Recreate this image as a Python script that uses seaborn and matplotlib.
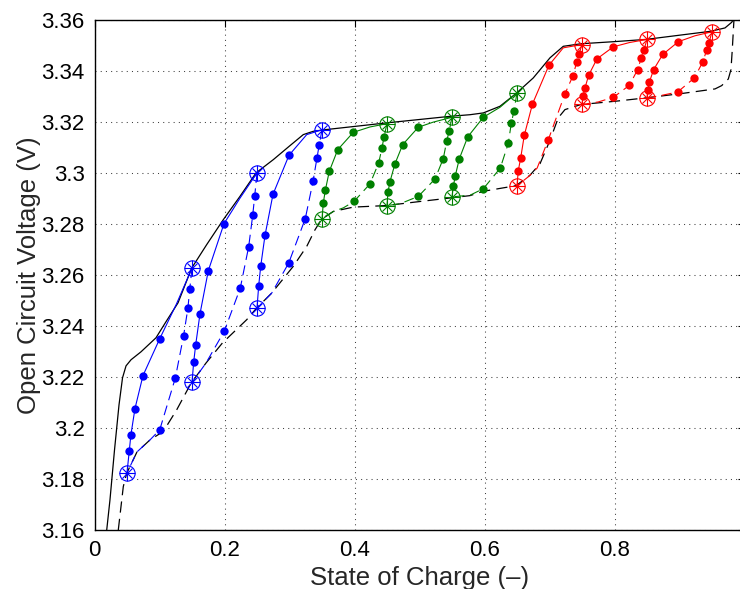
import numpy as np
import pandas as pd
import matplotlib
matplotlib.use("Agg")
import matplotlib.pyplot as plt
import seaborn as sns

sns.set_style("white")
plt.rcParams["font.family"] = ["Liberation Sans", "DejaVu Sans"]

# ---------------- data ----------------
# major charge boundary (upper, solid black)
UPPER_SOC = [0.0188, 0.0238, 0.0308, 0.0377, 0.0431, 0.0485, 0.0562, 0.0715, 0.0946,
             0.110, 0.1285, 0.1495, 0.1726, 0.1982, 0.2238, 0.2485, 0.2751, 0.3008,
             0.3212, 0.3366, 0.3572, 0.4495, 0.5485, 0.5777, 0.5982, 0.6238, 0.6485,
             0.675, 0.7008, 0.7212, 0.7485, 0.7982, 0.8485, 0.9485, 0.9700, 0.9803, 0.9838]
UPPER_V = [3.1600, 3.1718, 3.1914, 3.2090, 3.2196, 3.2243, 3.2267, 3.2298, 3.2353,
           3.2416, 3.2490, 3.2626, 3.2718, 3.2816, 3.2907, 3.2999, 3.3051, 3.3106,
           3.3149, 3.3162, 3.3169, 3.3195, 3.3221, 3.3227, 3.3234, 3.3260, 3.3310,
           3.3371, 3.3450, 3.3495, 3.3505, 3.3513, 3.3522, 3.3554, 3.3567, 3.3589, 3.3604]
# major discharge boundary (lower, dashed black)
LOWER_SOC = [0.0366, 0.0443, 0.0495, 0.0654, 0.0854, 0.1058, 0.1265, 0.1485, 0.1715,
             0.1969, 0.2342, 0.2492, 0.2726, 0.3058, 0.3265, 0.3392, 0.3495, 0.3674,
             0.3982, 0.4485, 0.5008, 0.548, 0.5777, 0.5982, 0.6485, 0.670, 0.6854,
             0.7008, 0.7135, 0.7238, 0.7485, 0.8023, 0.8485, 0.9034, 0.9546, 0.9649,
             0.9751, 0.9792, 0.9812, 0.9838]
LOWER_V = [3.1600, 3.1770, 3.1822, 3.1906, 3.1953, 3.1986, 3.2071, 3.2175, 3.2254,
           3.2333, 3.2424, 3.2469, 3.2528, 3.2633, 3.2711, 3.2776, 3.2818, 3.2848,
           3.2865, 3.2871, 3.2887, 3.2901, 3.2910, 3.2927, 3.2949, 3.2990, 3.3035,
           3.3127, 3.3215, 3.3247, 3.3267, 3.3280, 3.3293, 3.3310, 3.3328, 3.3341,
           3.3367, 3.3404, 3.3482, 3.3600]

# minor loop turning points
LOW_SOC = [0.05, 0.15, 0.25, 0.35, 0.45, 0.55, 0.65, 0.75, 0.85]
LOW_V = [3.1824, 3.2178, 3.2469, 3.2818, 3.2871, 3.2905, 3.2949, 3.3267, 3.3293]
HIGH_SOC = [0.15, 0.25, 0.35, 0.45, 0.55, 0.65, 0.75, 0.85, 0.95]
HIGH_V = [3.2626, 3.2999, 3.3168, 3.3192, 3.3217, 3.3313, 3.3502, 3.3522, 3.3552]

# charge (solid) relaxation points
CHG_DOT_SOC = [[0.0535, 0.0560, 0.0623, 0.0746, 0.1003],
               [0.1526, 0.1557, 0.1623, 0.1751, 0.1992],
               [0.2526, 0.2557, 0.2623, 0.2746, 0.2992],
               [0.3520, 0.3551, 0.3612, 0.3742, 0.3982],
               [0.4515, 0.4546, 0.4623, 0.4742, 0.4982],
               [0.5520, 0.5551, 0.5612, 0.5742, 0.5982],
               [0.6520, 0.6557, 0.6612, 0.6738, 0.6992],
               [0.7515, 0.7546, 0.7603, 0.7731, 0.7982],
               [0.8511, 0.8535, 0.8603, 0.8742, 0.8982]]
CHG_DOT_V = [[3.1910, 3.1973, 3.2076, 3.2205, 3.2349],
             [3.2258, 3.2326, 3.2447, 3.2616, 3.2800],
             [3.2557, 3.2633, 3.2754, 3.2915, 3.3068],
             [3.2881, 3.2931, 3.3005, 3.3090, 3.3158],
             [3.2924, 3.2965, 3.3035, 3.3110, 3.3178],
             [3.2946, 3.2988, 3.3054, 3.3140, 3.3217],
             [3.3008, 3.3058, 3.3146, 3.3269, 3.3421],
             [3.3299, 3.3332, 3.3382, 3.3446, 3.3493],
             [3.3323, 3.3354, 3.3404, 3.3463, 3.3513]]
# discharge (dashed) relaxation points
DIS_DOT_SOC = [[0.1465, 0.1437, 0.1370, 0.1243, 0.1003],
               [0.2465, 0.2434, 0.2372, 0.2243, 0.1997],
               [0.3458, 0.3423, 0.3362, 0.3243, 0.2988],
               [0.4454, 0.4423, 0.4372, 0.4238, 0.3992],
               [0.5458, 0.5418, 0.5366, 0.5238, 0.4982],
               [0.6454, 0.6412, 0.6366, 0.6243, 0.5982],
               [0.7454, 0.7418, 0.7362, 0.7238, 0.6982],
               [0.8454, 0.8412, 0.8357, 0.8228, 0.7982],
               [0.9454, 0.9418, 0.9357, 0.9228, 0.8972]]
DIS_DOT_V = [[3.2543, 3.2469, 3.2360, 3.2195, 3.1992],
             [3.2909, 3.2833, 3.2710, 3.2548, 3.2379],
             [3.3110, 3.3058, 3.2966, 3.2820, 3.2646],
             [3.3140, 3.3097, 3.3038, 3.2956, 3.2887],
             [3.3165, 3.3123, 3.3055, 3.2975, 3.2907],
             [3.3243, 3.3193, 3.3115, 3.3018, 3.2937],
             [3.3465, 3.3433, 3.3380, 3.3309, 3.3129],
             [3.3482, 3.3450, 3.3404, 3.3342, 3.3295],
             [3.3509, 3.3480, 3.3433, 3.3371, 3.3316]]
# extra curve points between last point and turning point
CHG_TAIL_SOC = [[0.126], [0.2238], [0.3265], [0.4238], [0.5212], [0.6238], [0.7212], [0.8235], [0.9235]]
CHG_TAIL_V = [[3.2485], [3.2900], [3.3149], [3.3179], [3.3198], [3.3256], [3.3489], [3.3510], [3.3536]]
DIS_TAIL_SOC = [[0.0854, 0.0654], [0.1715], [0.2726], [0.3828, 0.3674], [0.47], [0.578],
                [0.681, 0.668], [0.775], [0.873]]
DIS_TAIL_V = [[3.1953, 3.1906], [3.2254], [3.2528], [3.2862, 3.2848], [3.2878], [3.2912],
              [3.3018, 3.2985], [3.3277], [3.3303]]

X_TICKS = [0, 0.2, 0.4, 0.6, 0.8, 1.0]
X_TICK_LABELS = ["0", "0.2", "0.4", "0.6", "0.8", "1"]
Y_TICKS = [3.16, 3.18, 3.20, 3.22, 3.24, 3.26, 3.28, 3.30, 3.32, 3.34, 3.36]
Y_TICK_LABELS = ["3.16", "3.18", "3.2", "3.22", "3.24", "3.26", "3.28", "3.3", "3.32", "3.34", "3.36"]

# ---------------- plot ----------------
fig = plt.figure(figsize=(7.4, 5.89), dpi=100)
ax = fig.add_axes([94.5 / 740, 59 / 589, 650 / 740, 510.5 / 589])

DASH = (0, (9, 5))
loop_colors = ["#0000ff"] * 3 + ["#008000"] * 3 + ["#ff0000"] * 3

sns.lineplot(x=UPPER_SOC, y=UPPER_V, sort=False, estimator=None, color="k",
             linewidth=0.9, ax=ax, zorder=2)
sns.lineplot(x=LOWER_SOC, y=LOWER_V, sort=False, estimator=None, color="k",
             linewidth=0.9, linestyle=DASH, ax=ax, zorder=2)

for k in range(len(LOW_SOC)):
    c = loop_colors[k]
    chg = pd.DataFrame({
        "soc": [LOW_SOC[k]] + CHG_DOT_SOC[k] + CHG_TAIL_SOC[k] + [HIGH_SOC[k]],
        "v": [LOW_V[k]] + CHG_DOT_V[k] + CHG_TAIL_V[k] + [HIGH_V[k]],
    })
    dis = pd.DataFrame({
        "soc": [HIGH_SOC[k]] + DIS_DOT_SOC[k] + DIS_TAIL_SOC[k] + [LOW_SOC[k]],
        "v": [HIGH_V[k]] + DIS_DOT_V[k] + DIS_TAIL_V[k] + [LOW_V[k]],
    })
    sns.lineplot(data=chg, x="soc", y="v", sort=False, estimator=None, color=c,
                 linewidth=0.8, ax=ax, zorder=3)
    sns.lineplot(data=dis, x="soc", y="v", sort=False, estimator=None, color=c,
                 linewidth=0.8, linestyle=DASH, ax=ax, zorder=3)
    sns.scatterplot(x=CHG_DOT_SOC[k] + DIS_DOT_SOC[k], y=CHG_DOT_V[k] + DIS_DOT_V[k],
                    color=c, s=36, linewidth=0, ax=ax, zorder=4)
    for xs, ys in ((LOW_SOC[k], LOW_V[k]), (HIGH_SOC[k], HIGH_V[k])):
        ax.plot(xs, ys, marker="o", mfc="none", mec=c, ms=11, mew=0.8, zorder=5)
        ax.plot(xs, ys, marker="+", mec=c, ms=11, mew=0.8, zorder=5)
        ax.plot(xs, ys, marker="x", mec=c, ms=7.8, mew=0.8, zorder=5)

ax.set_xlim(0, 1)
ax.set_ylim(3.16, 3.36)
ax.set_xticks(X_TICKS)
ax.set_xticklabels(X_TICK_LABELS)
ax.set_yticks(Y_TICKS)
ax.set_yticklabels(Y_TICK_LABELS)
ax.grid(True, linestyle=(0, (1, 4)), color="0.25", linewidth=0.75)
ax.tick_params(direction="in", length=5, width=0.8, top=True, right=True,
               labelsize=16, pad=7, colors="k")
for sp in ax.spines.values():
    sp.set_visible(True)
    sp.set_color("k")
    sp.set_linewidth(1.0)

ax.set_xlabel("State of Charge (\u2013)", fontsize=18.5, labelpad=4)
ax.set_ylabel("Open Circuit Voltage (V)", fontsize=18.5)
ax.yaxis.set_label_coords(-0.083, 0.5)

fig.savefig("out.png", dpi=100)
